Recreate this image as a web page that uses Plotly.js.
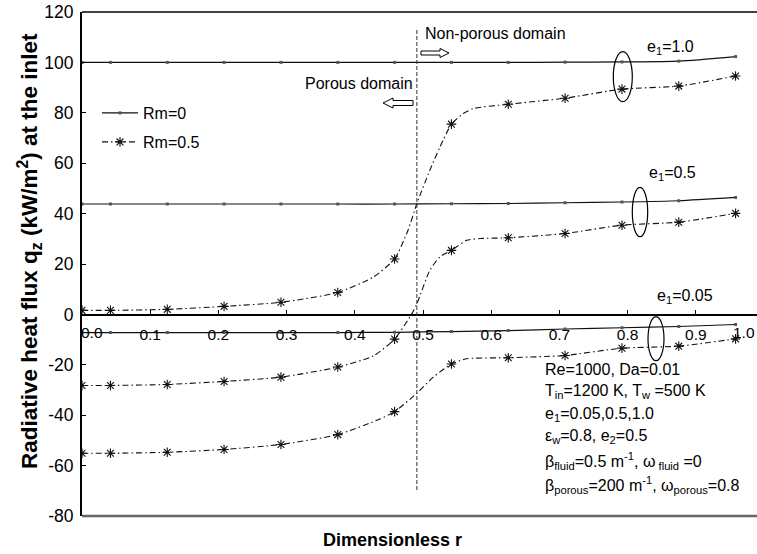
<!DOCTYPE html>
<html><head><meta charset="utf-8">
<script src="https://cdn.plot.ly/plotly-3.0.1.min.js"></script>
<style>html,body{margin:0;padding:0;background:#fff;overflow:hidden}</style>
</head><body><div id="chart" style="width:757px;height:554px"></div>
<script>
// ---------- data ----------
const rNodes = [0, 0.0417, 0.125, 0.2083, 0.2917, 0.375, 0.4583, 0.5417, 0.625, 0.7083, 0.7917, 0.875, 0.9583];

// Rm = 0 (solid lines)
const qRm0_e10  = [100, 100, 100, 100, 100, 100, 100, 100, 100, 100.1, 100.2, 100.5, 102.3];
const qRm0_e05  = [43.8, 43.8, 43.8, 43.8, 43.8, 43.8, 43.8, 43.9, 44.0, 44.3, 44.6, 45.1, 46.4];
const qRm0_e005 = [-7.2, -7.2, -7.2, -7.2, -7.2, -7.2, -7.1, -6.8, -6.4, -5.8, -5.3, -4.8, -4.0];

// Rm = 0.5 (dash-dot lines), nodes plus extra points
const rRm05_e10 = [0, 0.0417, 0.125, 0.2083, 0.2917, 0.375, 0.427, 0.4583, 0.478, 0.491, 0.51, 0.525, 0.5417, 0.559, 0.574, 0.625, 0.7083, 0.7917, 0.875, 0.9583];
const qRm05_e10 = [1.6, 1.6, 2.0, 3.2, 4.8, 8.7, 14.8, 22.0, 33.4, 44.0, 57.2, 66.5, 75.5, 79.7, 81.7, 83.4, 85.8, 89.4, 90.6, 94.6];

const rRm05_e05 = [0, 0.0417, 0.125, 0.2083, 0.2917, 0.375, 0.427, 0.4583, 0.483, 0.491, 0.51, 0.525, 0.5417, 0.564, 0.584, 0.625, 0.7083, 0.7917, 0.875, 0.9583];
const qRm05_e05 = [-28.2, -28.2, -27.8, -26.6, -24.9, -20.9, -16.5, -9.8, 0.0, 4.2, 17.5, 22.9, 25.4, 29.4, 30.1, 30.4, 32.1, 35.4, 36.6, 40.1];

const rRm05_e005 = [0, 0.0417, 0.125, 0.2083, 0.2917, 0.375, 0.437, 0.4583, 0.491, 0.515, 0.5417, 0.564, 0.625, 0.7083, 0.7917, 0.875, 0.9583];
const qRm05_e005 = [-55.1, -55.1, -54.7, -53.6, -51.6, -47.7, -41.5, -38.6, -31.3, -24.9, -19.7, -17.6, -17.2, -16.3, -13.4, -12.6, -9.7];

const seriesNames = ['Rm=0', 'Rm=0.5'];
const xTickVals = [0.1, 0.2, 0.3, 0.4, 0.5, 0.6, 0.7, 0.8, 0.9];
const xTickText = ['0.1', '0.2', '0.3', '0.4', '0.5', '0.6', '0.7', '0.8', '0.9'];
const yTickVals = [-80, -60, -40, -20, 0, 20, 40, 60, 80, 100, 120];
const yTickText = ['-80', '-60', '-40', '-20', '0', '20', '40', '60', '80', '100', '120'];
const poreBoundary = 0.491;

// ---------- helpers ----------
const FONT = 'Liberation Sans, Arial, Helvetica, sans-serif';
const L = 82, T = 12, W = 675, H = 504;
const XR = [0, 0.9897], YR = [-80, 120];
const px2r = px => XR[0] + (px - L) / W * (XR[1] - XR[0]);
const py2q = py => YR[1] - (py - T) / H * (YR[1] - YR[0]);
const px2paper = px => (px - L) / W;
const py2paper = py => 1 - (py - T) / H;
const nodeColor = (r, c) => r.map(v => rNodes.some(n => Math.abs(n - v) < 1e-6) ? c : 'rgba(0,0,0,0)');

function solid(y, show) {
  return {x: rNodes, y: y, mode: 'lines+markers', name: seriesNames[0], showlegend: show, legend: 'legend',
    line: {color: '#111', width: 1.2, shape: 'spline', smoothing: 0.6},
    marker: {symbol: 'square', size: 3, color: '#555'}};
}
function dashed(r, y, show) {
  return {x: r, y: y, mode: 'lines+markers', name: seriesNames[1], showlegend: show, legend: 'legend2',
    line: {color: '#111', width: 1.1, dash: '6px,3px,1.5px,3px', shape: 'spline', smoothing: 0.6},
    marker: {symbol: 'asterisk-open', size: 8, color: nodeColor(r, '#111'), line: {width: 1.1}}};
}

const data = [
  solid(qRm0_e10, true), solid(qRm0_e05, false), solid(qRm0_e005, false),
  dashed(rRm05_e10, qRm05_e10, true), dashed(rRm05_e05, qRm05_e05, false), dashed(rRm05_e005, qRm05_e005, false)
];

function ann(text, px, py, xanchor, size, extra) {
  return Object.assign({text: text, xref: 'x', yref: 'y', x: px2r(px), y: py2q(py), xanchor: xanchor, yanchor: 'middle',
    showarrow: false, font: {family: FONT, size: size, color: '#000'}}, extra || {});
}

const annotations = [
  ann('Non-porous domain', 423, 33, 'left', 16),
  ann('Porous domain', 415, 83, 'right', 16),
  ann('e<sub>1</sub>=1.0', 670.5, 47, 'center', 16),
  ann('e<sub>1</sub>=0.5', 672.8, 173, 'center', 16),
  ann('e<sub>1</sub>=0.05', 684.7, 296, 'center', 16),
  ann('Re=1000, Da=0.01', 543, 369.3, 'left', 16),
  ann('T<sub>in</sub>=1200 K, T<sub>w</sub> =500 K', 543, 391, 'left', 16),
  ann('e<sub>1</sub>=0.05,0.5,1.0', 543, 414, 'left', 16),
  ann('ε<sub>w</sub>=0.8, e<sub>2</sub>=0.5', 543, 436.5, 'left', 16),
  ann('β<sub>fluid</sub>=0.5 m<sup>-1</sup>, ω<sub> fluid</sub> =0', 543, 461, 'left', 16),
  ann('β<sub>porous</sub>=200 m<sup>-1</sup>, ω<sub>porous</sub>=0.8', 543, 484.5, 'left', 16),
  ann('0.0', 92, 332, 'center', 15.5),
  ann('1.0', 757, 332, 'right', 15.5),
  {text: '<b>Dimensionless r</b>', xref: 'paper', yref: 'paper', x: px2paper(392), y: py2paper(540), xanchor: 'center', yanchor: 'middle',
   showarrow: false, font: {family: FONT, size: 18, color: '#000'}},
  {text: '<b>Radiative heat flux q<sub>z</sub> (kW/m<sup>2</sup>) at the inlet</b>', xref: 'paper', yref: 'paper',
   x: px2paper(29), y: py2paper(251), xanchor: 'center', yanchor: 'middle', textangle: -90,
   showarrow: false, font: {family: FONT, size: 22.5, color: '#000'}}
];

// hollow arrows (data coords)
function arrowPath(tipPx, basePx, tailPx, cyPx, hb, hh) {
  const pts = [[tipPx, cyPx], [basePx, cyPx - hh], [basePx, cyPx - hb], [tailPx, cyPx - hb], [tailPx, cyPx + hb], [basePx, cyPx + hb], [basePx, cyPx + hh]];
  return 'M' + pts.map(p => px2r(p[0]).toFixed(5) + ',' + py2q(p[1]).toFixed(4)).join(' L') + ' Z';
}
function ellipse(x0, x1, y0, y1) {
  return {type: 'circle', xref: 'x', yref: 'y', x0: px2r(x0), x1: px2r(x1), y0: py2q(y0), y1: py2q(y1), line: {color: '#000', width: 1.2}};
}

const shapes = [
  {type: 'line', xref: 'paper', yref: 'paper', x0: 0, x1: 1, y0: 1, y1: 1, line: {color: '#000', width: 1.3}},
  {type: 'line', xref: 'paper', yref: 'paper', x0: 0, x1: 1, y0: 0, y1: 0, line: {color: '#666', width: 2.5}},
  {type: 'line', xref: 'x', yref: 'y', x0: poreBoundary, x1: poreBoundary, y0: py2q(490), y1: py2q(30), line: {color: '#333', width: 1, dash: '4px,2px'}},
  {type: 'path', xref: 'x', yref: 'y', path: arrowPath(449, 440, 421, 53, 2, 4.5), line: {color: '#000', width: 1}, fillcolor: '#fff'},
  {type: 'path', xref: 'x', yref: 'y', path: arrowPath(383, 393, 413, 103, 2.5, 5), line: {color: '#000', width: 1}, fillcolor: '#fff'},
  ellipse(613.3, 632.3, 51.7, 101.7),
  ellipse(632.3, 647.7, 187.3, 236.7),
  ellipse(648, 664, 316.7, 360.7)
];

const layout = {
  width: 757, height: 554,
  margin: {l: L, r: 0, t: T, b: 554 - T - H, pad: 0},
  paper_bgcolor: '#fff', plot_bgcolor: '#fff',
  font: {family: FONT, color: '#000'},
  xaxis: {range: XR, anchor: 'free', position: (0 - YR[0]) / (YR[1] - YR[0]),
    showline: true, linecolor: '#000', linewidth: 1.3, ticks: 'inside', ticklen: 4, tickwidth: 1, tickcolor: '#000',
    tickvals: xTickVals, ticktext: xTickText, tickfont: {family: FONT, size: 15.5, color: '#000'},
    showgrid: false, zeroline: false, ticklabelstandoff: 6},
  yaxis: {range: YR, showline: true, linecolor: '#000', linewidth: 2, ticks: 'inside', ticklen: 4, tickwidth: 1, tickcolor: '#000',
    tickvals: yTickVals, ticktext: yTickText, tickfont: {family: FONT, size: 17.5, color: '#000'},
    showgrid: false, zeroline: false, ticklabelstandoff: 3},
  legend: {x: px2paper(97), xanchor: 'left', y: py2paper(113), yanchor: 'middle', bgcolor: 'rgba(0,0,0,0)', borderwidth: 0,
    font: {family: FONT, size: 16, color: '#000'}, itemwidth: 36},
  legend2: {x: px2paper(97), xanchor: 'left', y: py2paper(142), yanchor: 'middle', bgcolor: 'rgba(0,0,0,0)', borderwidth: 0,
    font: {family: FONT, size: 16, color: '#000'}, itemwidth: 36},
  annotations: annotations,
  shapes: shapes
};

Plotly.newPlot('chart', data, layout, {staticPlot: true, displayModeBar: false});
</script></body></html>
